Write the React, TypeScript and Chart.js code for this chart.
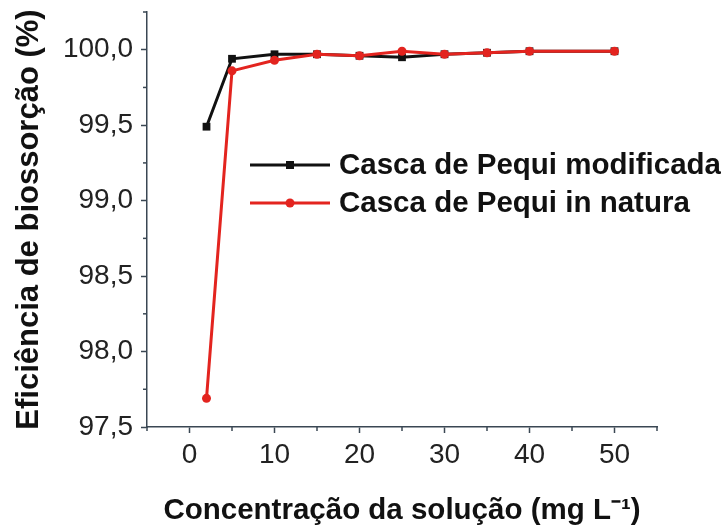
import { useEffect, useRef } from 'react';
import { Chart, registerables } from 'chart.js';

Chart.register(...registerables);

const concentrations = [2, 5, 10, 15, 20, 25, 30, 35, 40, 50];
const modificada = [99.49, 99.94, 99.97, 99.97, 99.96, 99.95, 99.97, 99.98, 99.99, 99.99];
const inNatura = [97.69, 99.86, 99.93, 99.97, 99.96, 99.99, 99.97, 99.98, 99.99, 99.99];
const seriesLabels = ['Casca de Pequi modificada', 'Casca de Pequi in natura'];
const xTitle = 'Concentração da solução (mg L⁻¹)';
const yTitle = 'Eficiência de biossorção (%)';

const AXIS = '#3a4753';
const BLACK = '#111111';
const RED = '#e3241f';
const FONT = "'Liberation Sans', Arial, sans-serif";

const isMajorY = (v: number) => Math.abs(v * 2 - Math.round(v * 2)) < 1e-6;
const isMajorX = (v: number) => Math.abs(v / 10 - Math.round(v / 10)) < 1e-6;

const decor = {
  id: 'decor',
  afterDraw(chart: any) {
    const ctx = chart.ctx;
    const xs = chart.scales.x;
    const ys = chart.scales.y;
    const area = chart.chartArea;
    ctx.save();
    ctx.strokeStyle = AXIS;
    ctx.lineWidth = 1.5;
    // minor ticks
    for (let v = -5; v <= 55; v += 10) {
      const px = xs.getPixelForValue(v);
      ctx.beginPath();
      ctx.moveTo(px, area.bottom);
      ctx.lineTo(px, area.bottom + 4);
      ctx.stroke();
    }
    for (let v = 97.75; v <= 100.3; v += 0.5) {
      const py = ys.getPixelForValue(v);
      ctx.beginPath();
      ctx.moveTo(area.left, py);
      ctx.lineTo(area.left - 4, py);
      ctx.stroke();
    }
    // legend
    const entries = [
      { label: seriesLabels[0], color: BLACK, style: 'rect', y: 165 },
      { label: seriesLabels[1], color: RED, style: 'circle', y: 203 },
    ];
    ctx.font = `bold 29.5px ${FONT}`;
    ctx.textBaseline = 'middle';
    ctx.textAlign = 'left';
    for (const e of entries) {
      ctx.strokeStyle = e.color;
      ctx.lineWidth = 3;
      ctx.beginPath();
      ctx.moveTo(250, e.y);
      ctx.lineTo(330, e.y);
      ctx.stroke();
      ctx.fillStyle = e.color;
      ctx.beginPath();
      if (e.style === 'rect') ctx.rect(286, e.y - 4, 8, 8);
      else ctx.arc(290, e.y, 4.5, 0, Math.PI * 2);
      ctx.fill();
      ctx.fillStyle = '#111';
      ctx.fillText(e.label, 339, e.y + 1);
    }
    ctx.restore();
  },
};

export default function App() {
  const ref = useRef<HTMLCanvasElement>(null);
  useEffect(() => {
    if (!ref.current) return;
    const chart = new Chart(ref.current, {
      type: 'line',
      data: {
        labels: concentrations,
        datasets: [
          {
            label: seriesLabels[0],
            data: concentrations.map((x, i) => ({ x, y: modificada[i] })),
            borderColor: BLACK,
            backgroundColor: BLACK,
            borderWidth: 3,
            pointStyle: 'rect',
            pointRadius: 5.5,
            pointBorderWidth: 0,
            order: 1,
          },
          {
            label: seriesLabels[1],
            data: concentrations.map((x, i) => ({ x, y: inNatura[i] })),
            borderColor: RED,
            backgroundColor: RED,
            borderWidth: 3,
            pointStyle: 'circle',
            pointRadius: 4.5,
            pointBorderWidth: 0,
            order: 0,
          },
        ],
      },
      options: {
        animation: false,
        responsive: false,
        devicePixelRatio: 1,
        layout: { padding: { left: 0, right: 64, top: 12, bottom: 0 } },
        plugins: { legend: { display: false }, tooltip: { enabled: false } },
        scales: {
          x: {
            type: 'linear',
            min: -5,
            max: 55,
            afterFit: (s: any) => { s.height = 102; s.paddingLeft = 0; s.paddingRight = 0; },
            border: { color: AXIS, width: 1.5 },
            grid: {
              drawOnChartArea: false,
              tickLength: 6,
              tickWidth: 1.5,
              tickColor: (c: any) => (c.tick && isMajorX(c.tick.value) ? AXIS : 'transparent'),
            },
            ticks: {
              stepSize: 5,
              autoSkip: false,
              maxRotation: 0,
              padding: 5,
              color: '#222',
              font: { family: FONT, size: 28 },
              callback: (v: any) => (isMajorX(Number(v)) ? String(v) : ''),
            },
            title: {
              display: true,
              text: xTitle,
              color: '#111',
              font: { family: FONT, size: 29.5, weight: 'bold' },
              padding: { top: 0, bottom: 0 },
            },
          },
          y: {
            min: 97.5,
            max: 100.25,
            afterFit: (s: any) => { s.width = 147; s.paddingTop = 0; s.paddingBottom = 0; },
            border: { color: AXIS, width: 1.5 },
            grid: {
              drawOnChartArea: false,
              tickLength: 6,
              tickWidth: 1.5,
              tickColor: (c: any) => (c.tick && isMajorY(c.tick.value) ? AXIS : 'transparent'),
            },
            ticks: {
              stepSize: 0.25,
              autoSkip: false,
              padding: 8,
              color: '#222',
              font: { family: FONT, size: 28 },
              callback: (v: any) => (isMajorY(Number(v)) ? Number(v).toFixed(1).replace('.', ',') : ''),
            },
            title: {
              display: true,
              text: yTitle,
              color: '#111',
              font: { family: FONT, size: 31, weight: 'bold' },
              padding: { top: 11, bottom: 0 },
            },
          },
        },
      },
      plugins: [decor],
    });
    return () => chart.destroy();
  }, []);
  return (
    <div style={{ position: 'fixed', left: 0, top: 0, width: 721, height: 529, background: '#fff' }}>
      <canvas ref={ref} width={721} height={529} />
    </div>
  );
}
